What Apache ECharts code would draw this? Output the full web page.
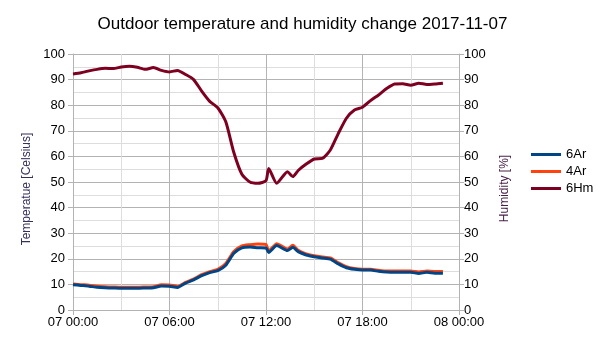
<!DOCTYPE html>
<html>
<head>
<meta charset="utf-8">
<script src="https://cdn.jsdelivr.net/npm/echarts@6/dist/echarts.min.js"></script>
<style>
  html, body { margin: 0; padding: 0; background: #fff; }
  #chart { width: 605px; height: 340px; }
</style>
</head>
<body>
<div id="chart"></div>
<script>
// Sample times of day (2017-11-07), hh:mm
const times = [
  '00:00','00:30','01:00','01:30','02:00','02:30','03:00','03:30','04:00','04:30',
  '05:00','05:30','06:00','06:30','07:00','07:30','08:00','08:30','09:00','09:30',
  '10:00','10:30','11:00','11:30','12:00','12:10','12:40','13:20','13:40','14:00',
  '14:30','15:00','15:30','16:00','16:30','17:00','17:30','18:00','18:30','19:00',
  '19:30','20:00','20:30','21:00','21:30','22:00','22:30','23:00'
];

// Temperature sensor 6Ar [°C]
const temp6Ar = [
  9.9, 9.6, 9.3, 8.9, 8.7, 8.6, 8.5, 8.5, 8.5, 8.6,
  8.7, 9.4, 9.3, 8.8, 10.5, 11.8, 13.4, 14.6, 15.4, 17.5,
  22.2, 24.3, 24.6, 24.3, 24.2, 22.5, 25.2, 23.2, 24.5, 22.8,
  21.5, 20.8, 20.3, 19.9, 18.0, 16.5, 15.9, 15.6, 15.6, 15.1,
  14.8, 14.7, 14.7, 14.7, 14.3, 14.7, 14.4, 14.4
];

// Temperature sensor 4Ar [°C]
const temp4Ar = [
  10.2, 9.9, 9.7, 9.3, 9.1, 9.0, 8.9, 8.9, 8.9, 9.0,
  9.1, 9.9, 9.8, 9.2, 10.8, 12.1, 13.8, 15.0, 15.9, 18.2,
  22.8, 25.0, 25.5, 25.8, 25.6, 23.0, 25.9, 23.8, 25.3, 23.3,
  21.9, 21.2, 20.7, 20.3, 18.4, 16.9, 16.2, 15.9, 15.9, 15.5,
  15.2, 15.2, 15.2, 15.2, 14.8, 15.2, 15.0, 15.0
];

// Relative humidity sensor 6Hm [%]
const hum6Hm = [
  92.2, 92.7, 93.4, 94.0, 94.4, 94.3, 94.9, 95.2, 94.8, 94.0,
  94.7, 93.6, 93.0, 93.6, 92.0, 90.0, 85.5, 81.5, 79.0, 73.5,
  61.5, 53.0, 50.0, 49.5, 50.5, 55.3, 49.5, 54.0, 52.1, 54.5,
  57.0, 59.0, 59.2, 62.5, 69.0, 74.9, 78.1, 79.2, 81.8, 84.0,
  86.5, 88.3, 88.4, 87.8, 88.6, 88.1, 88.3, 88.6
];

// Axis ticks: hours since 2017-11-07 00:00
const xTickHours = [0, 6, 12, 18, 24];
const xTickLabels = ['07 00:00', '07 06:00', '07 12:00', '07 18:00', '08 00:00'];

const seriesNames = ['6Ar', '4Ar', '6Hm'];
const colors = { '6Ar': '#004586', '4Ar': '#ff420e', '6Hm': '#7e0021' };

function toHours(t) {
  const [h, m] = t.split(':').map(Number);
  return h + m / 60;
}
const xs = times.map(toHours);
const pairs = vals => xs.map((x, i) => [x, vals[i]]);

const FONT = '"Liberation Sans", Arial, sans-serif';
const MAJOR = '#b3b3b3';
const MINOR = '#dddddd';

const chart = echarts.init(document.getElementById('chart'), null, { renderer: 'canvas' });

chart.setOption({
  animation: false,
  backgroundColor: '#ffffff',
  title: {
    text: 'Outdoor temperature and humidity change 2017-11-07',
    left: 'center',
    top: 11,
    textStyle: { fontFamily: FONT, fontSize: 17, fontWeight: 'normal', color: '#000' }
  },
  legend: {
    orient: 'vertical',
    left: 526,
    top: 143,
    itemWidth: 30,
    itemHeight: 3,
    itemGap: 4,
    icon: 'rect',
    data: seriesNames,
    textStyle: { fontFamily: FONT, fontSize: 13, color: '#000' }
  },
  grid: { left: 73, right: 146, top: 54, bottom: 30, containLabel: false },
  xAxis: {
    type: 'value',
    min: 0,
    max: 24,
    interval: 6,
    axisLine: { show: true, lineStyle: { color: MAJOR } },
    axisTick: { show: true, inside: false, length: 5, lineStyle: { color: MAJOR } },
    minorTick: { show: false, splitNumber: 2 },
    splitLine: { show: true, lineStyle: { color: MAJOR, width: 1 } },
    minorSplitLine: { show: true, lineStyle: { color: MINOR, width: 1 } },
    axisLabel: {
      fontFamily: FONT, fontSize: 13, color: '#000', margin: 6,
      formatter: v => {
        const i = xTickHours.indexOf(v);
        return i >= 0 ? xTickLabels[i] : '';
      }
    }
  },
  yAxis: [
    {
      type: 'value',
      min: 0, max: 100, interval: 10,
      name: 'Temperatue [Celsius]',
      nameLocation: 'middle',
      nameRotate: 90,
      nameGap: 40,
      nameTextStyle: { fontFamily: FONT, fontSize: 12, color: '#35305c', padding: [0, 14, 0, 0] },
      axisLine: { show: true, lineStyle: { color: MAJOR } },
      axisTick: { show: true, inside: false, length: 5, lineStyle: { color: MAJOR } },
      minorTick: { show: false, splitNumber: 2 },
      splitLine: { show: true, lineStyle: { color: MAJOR, width: 1 } },
      minorSplitLine: { show: true, lineStyle: { color: MINOR, width: 1 } },
      axisLabel: { fontFamily: FONT, fontSize: 13, color: '#000', margin: 8 }
    },
    {
      type: 'value',
      min: 0, max: 100, interval: 10,
      position: 'right',
      name: 'Humidity [%]',
      nameLocation: 'middle',
      nameRotate: 90,
      nameGap: 40,
      nameTextStyle: { fontFamily: FONT, fontSize: 12, color: '#4a2048', padding: [0, 13, 0, 0] },
      axisLine: { show: true, lineStyle: { color: MAJOR } },
      axisTick: { show: true, inside: false, length: 5, lineStyle: { color: MAJOR } },
      splitLine: { show: false },
      axisLabel: { fontFamily: FONT, fontSize: 13, color: '#000', margin: 5 }
    }
  ],
  series: [
    {
      name: '6Hm', type: 'line', yAxisIndex: 1, z: 2,
      data: pairs(hum6Hm),
      symbol: 'none', smooth: 0.2,
      color: colors['6Hm'],
      lineStyle: { width: 3, color: colors['6Hm'] }
    },
    {
      name: '4Ar', type: 'line', yAxisIndex: 0, z: 3,
      data: pairs(temp4Ar),
      symbol: 'none', smooth: 0.2,
      color: colors['4Ar'],
      lineStyle: { width: 3, color: colors['4Ar'] }
    },
    {
      name: '6Ar', type: 'line', yAxisIndex: 0, z: 4,
      data: pairs(temp6Ar),
      symbol: 'none', smooth: 0.2,
      color: colors['6Ar'],
      lineStyle: { width: 3, color: colors['6Ar'] }
    }
  ]
});
</script>
</body>
</html>
